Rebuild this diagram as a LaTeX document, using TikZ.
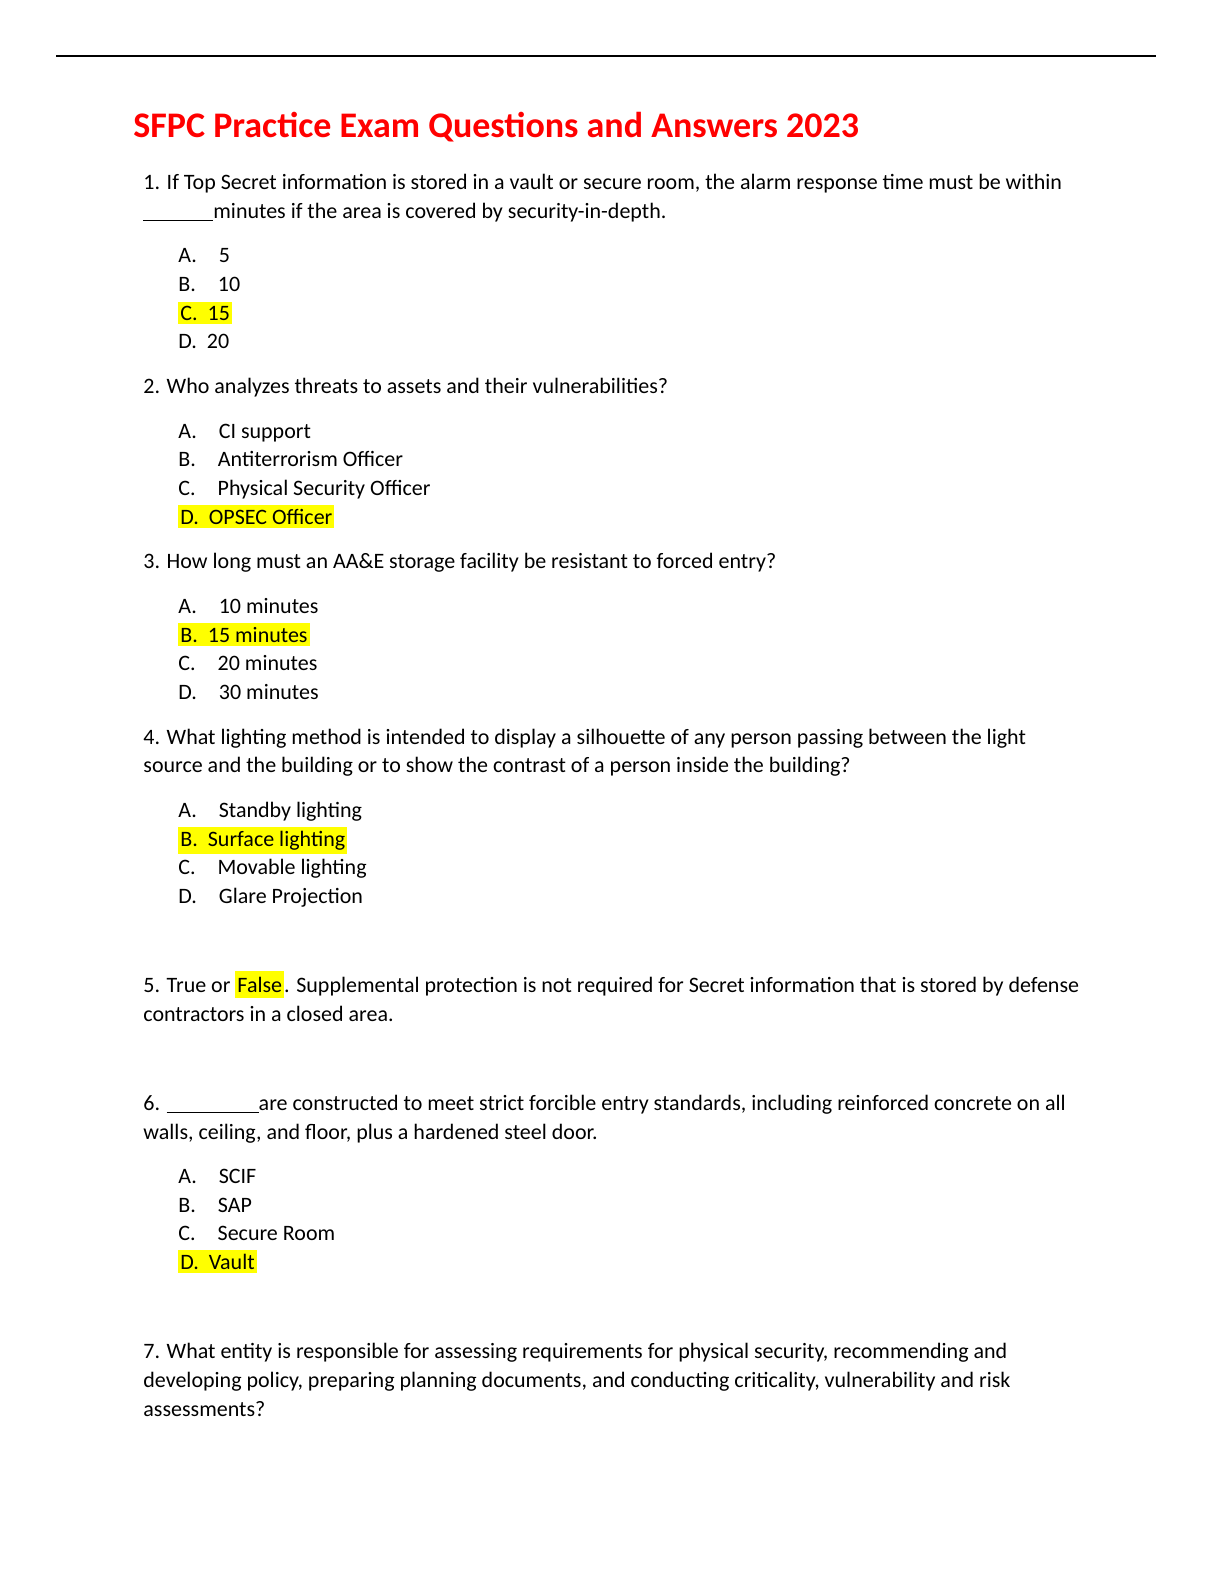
\documentclass[tikz,border=0pt]{standalone}
\usepackage{fontspec}
\setmainfont{Carlito}
\definecolor{titlered}{RGB}{255,0,0}
\definecolor{hlyellow}{RGB}{255,255,0}
\tikzset{
  line/.style={anchor=base west,inner sep=0pt,font=\fontsize{11}{13}\selectfont},
  hl/.style={line,fill=hlyellow,inner ysep=2pt,inner xsep=1pt},
}
\newcommand{\blank}[1]{\rule[-1.5pt]{#1}{0.5pt}}
\begin{document}
\begin{tikzpicture}[x=0.5pt,y=-0.5pt]
  \useasboundingbox (0,0) rectangle (1224,1584);
  \coordinate (rl) at (56,56);
  \coordinate (rr) at (1156,56);
  \draw[line width=1pt] (rl) -- (rr);
  \node[line,font=\fontsize{18}{22}\bfseries\selectfont,text=titlered] (title) at (133,138) {SFPC Practice Exam Questions and Answers 2023};

  % question 1
  \node[line] (q1) at (143,189) {1. If Top Secret information is stored in a vault or secure room, the alarm response time must be within};
  \node[line] (q1b) at (143,218) {\blank{35pt}minutes if the area is covered by security-in-depth.};
  \node[line] (q1A) at (178,262) {A.\hspace{11pt}5};
  \node[line] (q1B) at (178,291) {B.\hspace{11pt}10};
  \node[hl] (q1C) at (178,320) {C.~ 15};
  \node[line] (q1D) at (178,348) {D.~ 20};

  % question 2
  \node[line] (q2) at (143,393) {2. Who analyzes threats to assets and their vulnerabilities?};
  \node[line] (q2A) at (178,438) {A.\hspace{11pt}CI support};
  \node[line] (q2B) at (178,466) {B.\hspace{11pt}Antiterrorism Officer};
  \node[line] (q2C) at (178,495) {C.\hspace{11pt}Physical Security Officer};
  \node[hl] (q2D) at (178,524) {D.~ OPSEC Officer};

  % question 3
  \node[line] (q3) at (143,568) {3. How long must an AA\&E storage facility be resistant to forced entry?};
  \node[line] (q3A) at (178,613) {A.\hspace{11pt}10 minutes};
  \node[hl] (q3B) at (178,642) {B.~ 15 minutes};
  \node[line] (q3C) at (178,670) {C.\hspace{11pt}20 minutes};
  \node[line] (q3D) at (178,699) {D.\hspace{11pt}30 minutes};

  % question 4
  \node[line] (q4) at (143,744) {4. What lighting method is intended to display a silhouette of any person passing between the light};
  \node[line] (q4b) at (143,772) {source and the building or to show the contrast of a person inside the building?};
  \node[line] (q4A) at (178,817) {A.\hspace{11pt}Standby lighting};
  \node[hl] (q4B) at (178,846) {B.~ Surface lighting};
  \node[line] (q4C) at (178,874) {C.\hspace{11pt}Movable lighting};
  \node[line] (q4D) at (178,903) {D.\hspace{11pt}Glare Projection};

  % question 5
  \node[line] (q5) at (143,992) {5. True or \colorbox{hlyellow}{\kern-2pt False\kern-2pt}. Supplemental protection is not required for Secret information that is stored by defense};
  \node[line] (q5b) at (143,1021) {contractors in a closed area.};

  % question 6
  \node[line] (q6) at (143,1110) {6. \blank{46pt}are constructed to meet strict forcible entry standards, including reinforced concrete on all};
  \node[line] (q6b) at (143,1139) {walls, ceiling, and floor, plus a hardened steel door.};
  \node[line] (q6A) at (178,1183) {A.\hspace{11pt}SCIF};
  \node[line] (q6B) at (178,1212) {B.\hspace{11pt}SAP};
  \node[line] (q6C) at (178,1240) {C.\hspace{11pt}Secure Room};
  \node[hl] (q6D) at (178,1269) {D.~ Vault};

  % question 7
  \node[line] (q7) at (143,1358) {7. What entity is responsible for assessing requirements for physical security, recommending and};
  \node[line] (q7b) at (143,1387) {developing policy, preparing planning documents, and conducting criticality, vulnerability and risk};
  \node[line] (q7c) at (143,1416) {assessments?};
\end{tikzpicture}
\end{document}
